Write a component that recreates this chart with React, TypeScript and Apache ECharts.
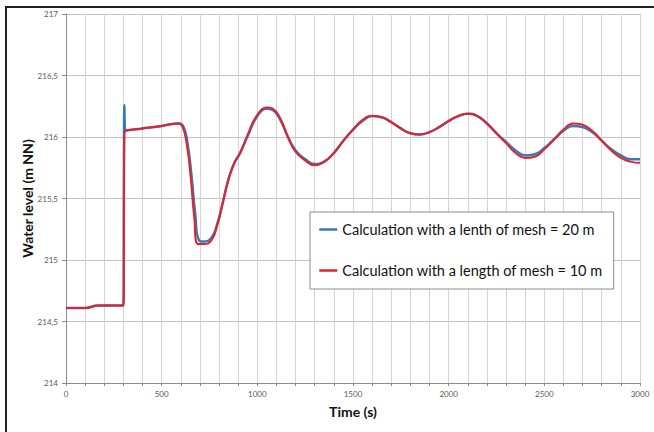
import React, { useEffect, useRef } from "react";
import * as echarts from "echarts";

const seriesNames = [
  "Calculation with a lenth of mesh = 20 m",
  "Calculation with a length of mesh = 10 m",
];

const blueTime = [0, 100, 170, 290, 300, 303, 305, 307, 310, 320, 400, 500, 590, 615, 635, 655, 675, 695, 720, 760, 790, 820, 850, 880, 910, 950, 1000, 1050, 1080, 1120, 1160, 1200, 1250, 1300, 1350, 1400, 1450, 1500, 1550, 1600, 1650, 1700, 1750, 1800, 1850, 1900, 1950, 2000, 2050, 2100, 2150, 2200, 2250, 2300, 2350, 2400, 2450, 2500, 2550, 2600, 2650, 2700, 2750, 2800, 2850, 2900, 2950, 3000];
const blueLevel = [214.61, 214.61, 214.63, 214.63, 214.63, 215.9, 216.26, 216.1, 216.05, 216.055, 216.07, 216.09, 216.11, 216.08, 215.95, 215.7, 215.38, 215.16, 215.15, 215.18, 215.29, 215.47, 215.66, 215.79, 215.87, 216.01, 216.17, 216.23, 216.22, 216.14, 216.0, 215.89, 215.82, 215.78, 215.8, 215.87, 215.97, 216.06, 216.13, 216.17, 216.16, 216.12, 216.07, 216.03, 216.02, 216.04, 216.08, 216.13, 216.17, 216.19, 216.17, 216.11, 216.03, 215.96, 215.89, 215.85, 215.86, 215.91, 215.98, 216.05, 216.09, 216.08, 216.04, 215.97, 215.9, 215.85, 215.82, 215.82];

const redTime = [0, 100, 170, 290, 300, 305, 310, 320, 400, 500, 590, 610, 630, 650, 670, 690, 720, 760, 790, 820, 850, 880, 910, 950, 1000, 1050, 1080, 1120, 1160, 1200, 1250, 1300, 1350, 1400, 1450, 1500, 1550, 1600, 1650, 1700, 1750, 1800, 1850, 1900, 1950, 2000, 2050, 2100, 2150, 2200, 2250, 2300, 2350, 2400, 2450, 2500, 2550, 2600, 2650, 2700, 2750, 2800, 2850, 2900, 2950, 3000];
const redLevel = [214.61, 214.61, 214.63, 214.63, 214.63, 216.04, 216.05, 216.055, 216.07, 216.09, 216.11, 216.08, 215.95, 215.7, 215.35, 215.13, 215.13, 215.16, 215.28, 215.47, 215.66, 215.79, 215.87, 216.02, 216.18, 216.24, 216.23, 216.15, 216.0, 215.88, 215.81, 215.77, 215.8, 215.87, 215.97, 216.06, 216.14, 216.17, 216.16, 216.12, 216.07, 216.03, 216.02, 216.04, 216.08, 216.13, 216.17, 216.19, 216.17, 216.11, 216.03, 215.95, 215.87, 215.83, 215.84, 215.9, 215.98, 216.06, 216.11, 216.1, 216.05, 215.97, 215.89, 215.83, 215.8, 215.79];

const xTitle = "Time (s)";
const yTitle = "Water level (m NN)";

export default function App() {
  const ref = useRef<HTMLDivElement>(null);
  useEffect(() => {
    if (!ref.current) return;
    const chart = echarts.init(ref.current, null, { renderer: "svg" });
    const font = "Lato, 'Open Sans', sans-serif";
    chart.setOption({
      animation: false,
      backgroundColor: "#ffffff",
      textStyle: { fontFamily: font },
      grid: { left: 66, right: 14, top: 14, bottom: 49 },
      legend: {
        orient: "vertical",
        left: 310,
        top: 212,
        padding: [10, 11, 11, 8],
        itemGap: 26,
        itemWidth: 18,
        itemHeight: 14,
        borderColor: "#8c8c8c",
        borderWidth: 1,
        backgroundColor: "#ffffff",
        itemStyle: { opacity: 0, borderWidth: 0 },
        lineStyle: { width: 2.5 },
        textStyle: { fontSize: 14.5, color: "#111", fontFamily: font },
        data: seriesNames,
      },
      xAxis: {
        type: "value",
        min: 0,
        max: 3000,
        interval: 100,
        name: xTitle,
        nameLocation: "middle",
        nameGap: 21,
        nameMoveOverlap: false,
        nameTextStyle: { fontSize: 14, fontWeight: "bold", color: "#111", fontFamily: font },
        axisLine: { lineStyle: { color: "#8c8c8c" } },
        axisTick: { show: true, length: 3, lineStyle: { color: "#8c8c8c" } },
        axisLabel: {
          fontSize: 8,
          color: "#595959",
          margin: 7,
          showMaxLabel: true,
          formatter: (v: number) => (v % 500 === 0 ? String(v) : ""),
        },
        splitLine: { show: true, lineStyle: { color: "#d4d4d4", width: 1 } },
      },
      yAxis: {
        type: "value",
        min: 214,
        max: 217,
        interval: 0.5,
        name: yTitle,
        nameLocation: "middle",
        nameGap: 32,
        nameMoveOverlap: false,
        nameTextStyle: { fontSize: 14, fontWeight: "bold", color: "#111", fontFamily: font },
        axisLine: { show: true, lineStyle: { color: "#8c8c8c" } },
        axisTick: { show: true, length: 4, lineStyle: { color: "#8c8c8c" } },
        axisLabel: {
          fontSize: 8,
          color: "#595959",
          margin: 8,
          formatter: (v: number) => String(v).replace(".", ","),
        },
        splitLine: { show: true, lineStyle: { color: "#c4c4c4", width: 1 } },
      },
      series: [
        {
          name: seriesNames[0],
          type: "line",
          symbol: "none",
          smooth: 0.5,
          lineStyle: { color: "#3b78b6", width: 2.5 },
          itemStyle: { color: "#3b78b6" },
          data: blueTime.map((t, i) => [t, blueLevel[i]]),
          z: 2,
        },
        {
          name: seriesNames[1],
          type: "line",
          symbol: "none",
          smooth: 0.5,
          lineStyle: { color: "#e3232c", width: 2 },
          itemStyle: { color: "#e3232c" },
          data: redTime.map((t, i) => [t, redLevel[i]]),
          z: 3,
        },
      ],
      graphic: [
        { type: "line", shape: { x1: 5, y1: 7, x2: 654, y2: 7 }, style: { stroke: "#222", lineWidth: 2 } },
        { type: "line", shape: { x1: 6, y1: 6, x2: 6, y2: 432 }, style: { stroke: "#222", lineWidth: 2 } },
      ],
    });
    return () => chart.dispose();
  }, []);
  return (
    <div
      ref={ref}
      style={{ position: "absolute", left: 0, top: 0, width: 654, height: 432 }}
    />
  );
}
